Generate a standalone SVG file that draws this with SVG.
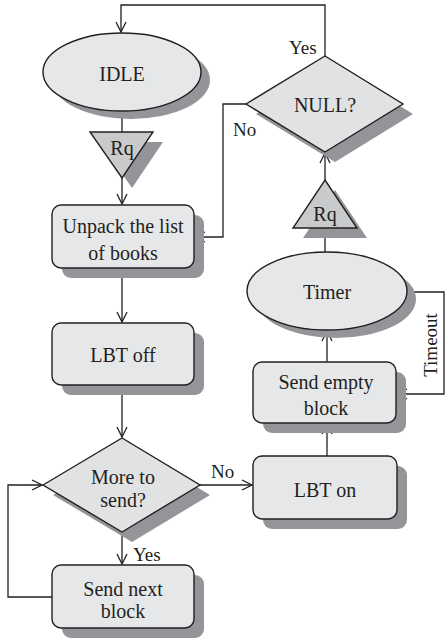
<svg xmlns="http://www.w3.org/2000/svg" width="445" height="640" viewBox="0 0 445 640">
<defs>
<style>
.sh{fill:#939598;stroke:none}
.nd{fill:#e6e7e8;stroke:#231f20;stroke-width:1.4}
.dm{fill:#e1e2e3;stroke:#231f20;stroke-width:1.4}
.tr{fill:#c9cacc;stroke:#231f20;stroke-width:1.4}
.t{font-family:"Liberation Serif",serif;font-size:20px;fill:#231f20;text-anchor:middle;dominant-baseline:central}
.l{font-family:"Liberation Serif",serif;font-size:19px;fill:#231f20}
.c{fill:none;stroke:#231f20;stroke-width:1.3}
</style>
<marker id="ah" viewBox="0 0 12 12" refX="11" refY="6" markerWidth="12" markerHeight="12" markerUnits="userSpaceOnUse" orient="auto">
<path d="M1,1 L11,6 L1,11" fill="none" stroke="#231f20" stroke-width="1.3"/>
</marker>
</defs>
<rect width="445" height="640" fill="#fff"/>

<g id="connectors">
<path class="c" d="M325,56 V5 H121 V32" marker-end="url(#ah)"/>
<path class="c" d="M122,112 V132"/>
<path class="c" d="M122,178 V204" marker-end="url(#ah)"/>
<path class="c" d="M122,268 V322" marker-end="url(#ah)"/>
<path class="c" d="M122,385 V437" marker-end="url(#ah)"/>
<path class="c" d="M122,532 V564" marker-end="url(#ah)"/>
<path class="c" d="M52,597 H8 V485 H42" marker-end="url(#ah)"/>
<path class="c" d="M200,485 H252" marker-end="url(#ah)"/>
<path class="c" d="M327,456 V424" marker-end="url(#ah)"/>
<path class="c" d="M327,362 V331" marker-end="url(#ah)"/>
<path class="c" d="M407,292 H444 V394 H397" marker-end="url(#ah)"/>
<path class="c" d="M325,252 V228"/>
<path class="c" d="M325,180 V153" marker-end="url(#ah)"/>
<path class="c" d="M246,104 H223 V237 H195" marker-end="url(#ah)"/>
<text class="l" x="289" y="54">Yes</text>
<text class="l" x="233" y="136">No</text>
<text class="l" x="133" y="561">Yes</text>
<text class="l" x="211" y="478">No</text>
<text class="l" transform="translate(430,345) rotate(-90)" text-anchor="middle" dominant-baseline="central">Timeout</text>
</g>

<g id="idle">
<ellipse class="sh" cx="131" cy="80" rx="79" ry="39"/>
<ellipse class="nd" cx="122" cy="72" rx="79" ry="39"/>
<text class="t" x="122" y="74">IDLE</text>
</g>

<g id="rq1">
<polygon class="sh" points="100,142 163,142 132,188"/>
<polygon class="tr" points="90,132 153,132 122,178"/>
<text class="t" x="122" y="148">Rq</text>
</g>

<g id="unpack">
<rect class="sh" x="62" y="215" width="142" height="63" rx="9"/>
<rect class="nd" x="52" y="205" width="142" height="63" rx="9"/>
<text class="t" x="123" y="226">Unpack the list</text>
<text class="t" x="123" y="253">of books</text>
</g>

<g id="lbtoff">
<rect class="sh" x="62" y="333" width="142" height="62" rx="9"/>
<rect class="nd" x="52" y="323" width="142" height="62" rx="9"/>
<text class="t" x="123" y="355">LBT off</text>
</g>

<g id="more">
<polygon class="sh" points="53,495 132,448 210,495 132,542"/>
<polygon class="dm" points="43,485 122,438 200,485 122,532"/>
<text class="t" x="123" y="477">More to</text>
<text class="t" x="123" y="500">send?</text>
</g>

<g id="sendnext">
<rect class="sh" x="62" y="575" width="142" height="63" rx="9"/>
<rect class="nd" x="52" y="565" width="142" height="63" rx="9"/>
<text class="t" x="123" y="589">Send next</text>
<text class="t" x="123" y="611">block</text>
</g>

<g id="lbton">
<rect class="sh" x="263" y="466" width="144" height="63" rx="9"/>
<rect class="nd" x="253" y="456" width="144" height="63" rx="9"/>
<text class="t" x="325" y="490">LBT on</text>
</g>

<g id="sendempty">
<rect class="sh" x="263" y="372" width="143" height="61" rx="9"/>
<rect class="nd" x="253" y="362" width="143" height="61" rx="9"/>
<text class="t" x="326" y="382">Send empty</text>
<text class="t" x="326" y="408">block</text>
</g>

<g id="timer">
<ellipse class="sh" cx="336" cy="299" rx="80" ry="39"/>
<ellipse class="nd" cx="327" cy="291" rx="80" ry="39"/>
<text class="t" x="327" y="292">Timer</text>
</g>

<g id="rq2">
<polygon class="sh" points="335,190 367,238 303,238"/>
<polygon class="tr" points="325,180 357,228 293,228"/>
<text class="t" x="325" y="214">Rq</text>
</g>

<g id="null">
<polygon class="sh" points="256,114 335,66 413,114 335,162"/>
<polygon class="dm" points="246,104 325,56 403,104 325,152"/>
<text class="t" x="325" y="105">NULL?</text>
</g>
</svg>
